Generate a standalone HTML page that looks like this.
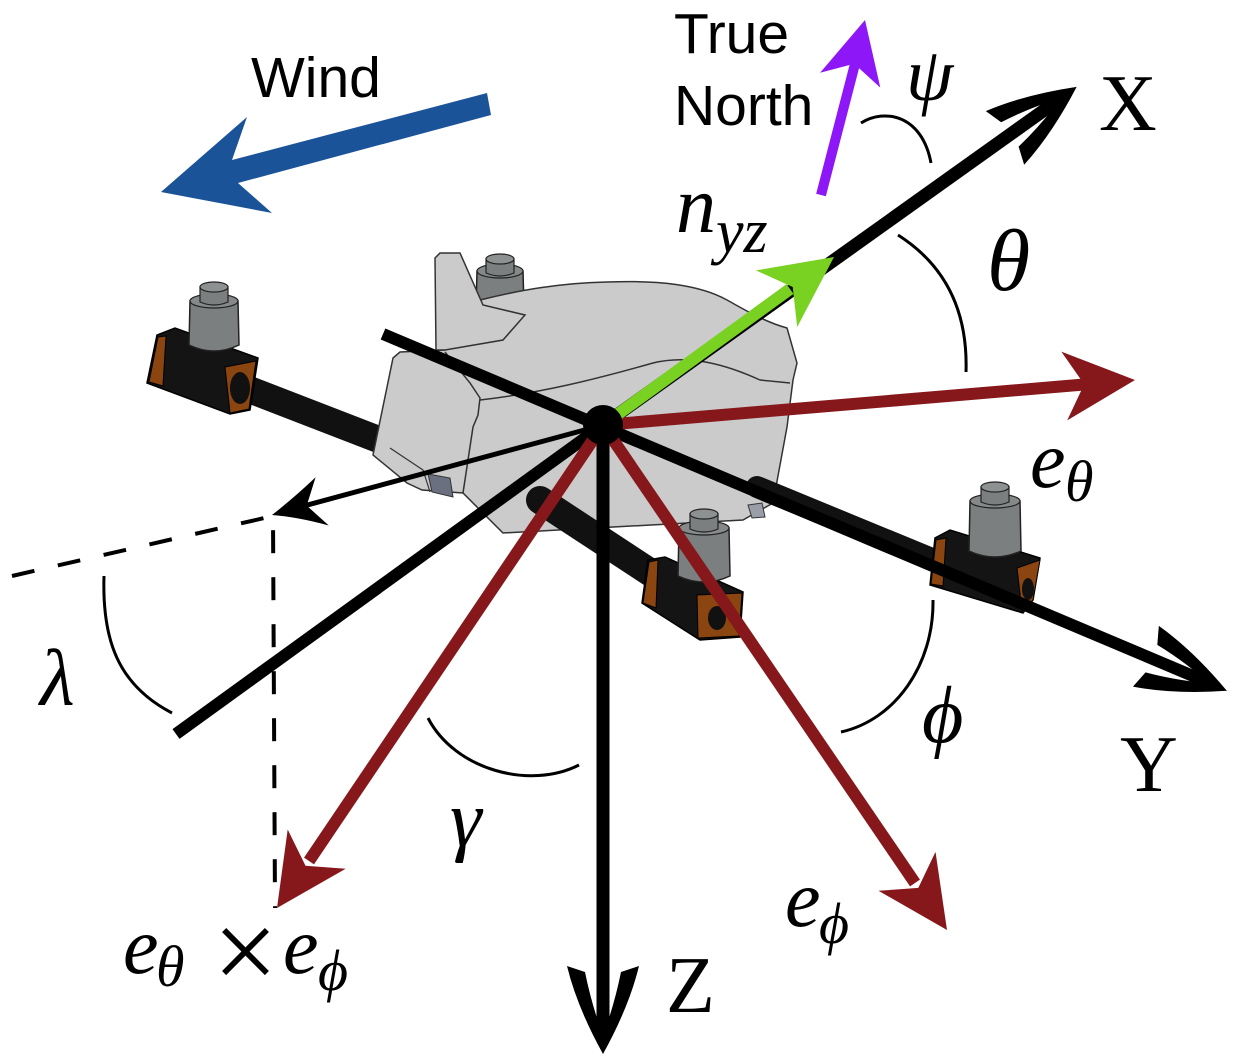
<!DOCTYPE html>
<html><head><meta charset="utf-8"><style>
html,body{margin:0;padding:0;background:#fff;}
svg{display:block;}
.m{font-family:"Liberation Serif","DejaVu Serif",serif;font-style:italic;fill:#000;}
.u{font-family:"Liberation Serif","DejaVu Serif",serif;fill:#000;}
.s{font-family:"Liberation Sans",Arial,sans-serif;fill:#000;}
</style></head><body>
<svg width="1236" height="1061" viewBox="0 0 1236 1061" xmlns="http://www.w3.org/2000/svg">
<rect width="1236" height="1061" fill="#fff"/>

<!-- Wind -->
<text class="s" x="251" y="97" font-size="57">Wind</text>
<polygon points="161,192 247,117 232,160 487,93 491,115 238,183 272,213" fill="#1b5399"/>

<!-- True North -->
<text class="s" x="674" y="53" font-size="57">True</text>
<text class="s" x="674" y="125" font-size="57">North</text>
<line x1="821" y1="195" x2="856" y2="60" stroke="#8e17f7" stroke-width="10"/>
<polygon points="865,20 820.1,72.8 854.2,63.7 880.3,87.6" fill="#8e17f7"/>

<!-- top back motor -->
<g transform="translate(500,265)">
 <path d="M-23,6 L-24,44 Q0,54 24,44 L23,6 Z" fill="#7c7f7f" stroke="#222" stroke-width="1.5"/>
 <ellipse cx="0" cy="6" rx="23" ry="7" fill="#868989" stroke="#222" stroke-width="1.2"/>
 <path d="M-14,-6 L-14,8 Q0,14 14,8 L14,-6 Z" fill="#7c7f7f" stroke="#222" stroke-width="1.2"/>
 <ellipse cx="0" cy="-6" rx="14" ry="5" fill="#8e9191" stroke="#222" stroke-width="1.2"/>
</g>

<!-- left arm -->
<line x1="160" y1="355" x2="385" y2="442" stroke="#111" stroke-width="27"/>

<!-- body -->
<path d="M393,358 L400,352 L445,350 L480,300 C520,290 560,283 607,282 C660,280 700,285 727,300 C745,310 765,322 787,328 L797,363 L793,380 L787,427 L773,503 L743,520 L503,533 L463,493 L422,490 L407,483 L373,455 Z" fill="#cbcbcb" stroke="#333" stroke-width="1.5"/>
<polygon points="436,350 435,258 440,253 460,253 483,305 525,315 503,340 445,350" fill="#cbcbcb" stroke="#333" stroke-width="1.5"/>
<path d="M480,400 C540,393 593,380 653,363 C690,354 727,365 760,380 L790,383" fill="none" stroke="#333" stroke-width="1.5"/>
<path d="M445,352 L470,383 L480,398 L478,415 L473,427 L463,493" fill="none" stroke="#333" stroke-width="1.5"/>
<path d="M390,448 L423,470 L430,492" fill="none" stroke="#333" stroke-width="1.2"/>
<polygon points="428,474 450,478 453,497 432,492" fill="#6b7080" stroke="#333" stroke-width="1"/>
<polygon points="748,505 762,503 765,517 752,518" fill="#9a9ea6" stroke="#333" stroke-width="1"/>

<!-- bottom arm & right arm -->
<line x1="540" y1="500" x2="700" y2="605" stroke="#111" stroke-width="28" stroke-linecap="round"/>
<line x1="757" y1="487" x2="1000" y2="587" stroke="#111" stroke-width="22" stroke-linecap="round"/>

<!-- left mount -->
<polygon points="147,383 157,335 175,328 258,358 250,410 230,414" fill="#141414" stroke="#000" stroke-width="1.5"/>
<polygon points="149,382 158,337 166,336 163,386" fill="#8a4510" stroke="#000" stroke-width="1"/>
<polygon points="225,367 256,361 249,409 230,413" fill="#8a4510" stroke="#000" stroke-width="1"/>
<ellipse cx="240" cy="388" rx="10" ry="16" fill="#111"/>
<g transform="translate(214,293)">
 <path d="M-24,8 L-25,52 Q0,64 25,52 L24,8 Z" fill="#7c7f7f" stroke="#222" stroke-width="1.5"/>
 <ellipse cx="0" cy="8" rx="24" ry="7" fill="#868989" stroke="#222" stroke-width="1.2"/>
 <path d="M-14,-6 L-14,9 Q0,15 14,9 L14,-6 Z" fill="#7c7f7f" stroke="#222" stroke-width="1.2"/>
 <ellipse cx="0" cy="-6" rx="14" ry="5" fill="#8e9191" stroke="#222" stroke-width="1.2"/>
</g>

<!-- right mount -->
<polygon points="930,585 935,538 950,530 1040,558 1033,600 1023,613" fill="#141414" stroke="#000" stroke-width="1.5"/>
<polygon points="931,584 936,540 946,538 943,586" fill="#8a4510" stroke="#000" stroke-width="1"/>
<polygon points="1017,568 1040,560 1033,600 1022,611" fill="#8a4510" stroke="#000" stroke-width="1"/>
<ellipse cx="1028" cy="589" rx="6" ry="11" fill="#111"/>
<g transform="translate(995,493)">
 <path d="M-25,8 L-26,58 Q0,70 26,58 L25,8 Z" fill="#7c7f7f" stroke="#222" stroke-width="1.5"/>
 <ellipse cx="0" cy="8" rx="25" ry="7" fill="#868989" stroke="#222" stroke-width="1.2"/>
 <path d="M-14,-6 L-14,9 Q0,15 14,9 L14,-6 Z" fill="#7c7f7f" stroke="#222" stroke-width="1.2"/>
 <ellipse cx="0" cy="-6" rx="14" ry="5" fill="#8e9191" stroke="#222" stroke-width="1.2"/>
</g>

<!-- bottom mount -->
<polygon points="642,603 648,560 665,557 743,592 740,637 700,640" fill="#141414" stroke="#000" stroke-width="1.5"/>
<polygon points="643,603 649,562 658,560 656,608" fill="#8a4510" stroke="#000" stroke-width="1"/>
<polygon points="697,595 742,593 739,636 698,638" fill="#8a4510" stroke="#000" stroke-width="1"/>
<ellipse cx="717" cy="618" rx="9" ry="12" fill="#111"/>
<g transform="translate(704,520)">
 <path d="M-25,8 L-26,56 Q0,68 26,56 L25,8 Z" fill="#7c7f7f" stroke="#222" stroke-width="1.5"/>
 <ellipse cx="0" cy="8" rx="25" ry="7" fill="#868989" stroke="#222" stroke-width="1.2"/>
 <path d="M-14,-6 L-14,9 Q0,15 14,9 L14,-6 Z" fill="#7c7f7f" stroke="#222" stroke-width="1.2"/>
 <ellipse cx="0" cy="-6" rx="14" ry="5" fill="#8e9191" stroke="#222" stroke-width="1.2"/>
</g>

<!-- dashed lines -->
<path d="M12,576 L273,516 L275,908" fill="none" stroke="#000" stroke-width="4" stroke-dasharray="23 24"/>

<!-- black axes -->
<line x1="383" y1="334" x2="1212" y2="684" stroke="#000" stroke-width="12"/>
<line x1="603" y1="425" x2="176" y2="734" stroke="#000" stroke-width="12"/>
<line x1="603" y1="425" x2="1064" y2="96" stroke="#000" stroke-width="13"/>
<line x1="603" y1="425" x2="603" y2="1040" stroke="#000" stroke-width="13"/>
<line x1="603" y1="425" x2="300" y2="507" stroke="#000" stroke-width="5"/>
<path d="M272,515 Q295,497 315.6,477.3 L306.7,505.6 L328.8,525.5 Q298,517 272,515 Z" fill="#000"/>

<!-- curved arrowheads X, Y, Z -->
<g transform="translate(1075,88) rotate(-35.5)" fill="#000">
 <path d="M2,0 Q-45,-24 -86,-33 L-80,-15 Q-45,-10 -8,3 Z"/>
 <path d="M2,0 Q-45,24 -86,33 L-80,15 Q-45,10 -8,-3 Z"/>
</g>
<g transform="translate(1225,690) rotate(23.1)" fill="#000">
 <path d="M2,0 Q-45,-24 -86,-33 L-80,-15 Q-45,-10 -8,3 Z"/>
 <path d="M2,0 Q-45,24 -86,33 L-80,15 Q-45,10 -8,-3 Z"/>
</g>
<g transform="translate(603,1052) rotate(90)" fill="#000">
 <path d="M2,0 Q-45,-26 -86,-36 L-80,-18 Q-45,-11 -8,3 Z"/>
 <path d="M2,0 Q-45,26 -86,36 L-80,18 Q-45,11 -8,-3 Z"/>
</g>

<!-- red vectors -->
<line x1="603" y1="425" x2="1090" y2="384" stroke="#86181b" stroke-width="12"/>
<polygon points="1135,380 1061.3,351.6 1084.2,384.3 1067.2,420.4" fill="#86181b"/>
<line x1="603" y1="425" x2="915" y2="883" stroke="#86181b" stroke-width="12"/>
<polygon points="947,930 935.5,851.9 918.3,887.9 878.5,890.8" fill="#86181b"/>
<line x1="603" y1="425" x2="309" y2="861" stroke="#86181b" stroke-width="12"/>
<polygon points="277,908 287.7,829.5 305.5,865.7 345.7,868.7" fill="#86181b"/>

<!-- green n_yz -->
<line x1="603" y1="425" x2="790" y2="289" stroke="#79d121" stroke-width="12"/>
<polygon points="834,257 756,270.4 792.7,287 797.2,327" fill="#79d121"/>

<!-- center dot -->
<circle cx="603" cy="425" r="20" fill="#000"/>

<!-- angle arcs -->
<g fill="none" stroke="#000" stroke-width="3">
 <path d="M861,123 C885,108 922,115 931,163"/>
 <path d="M898,235 C945,265 968,310 966,372"/>
 <path d="M104,576 C102,640 118,685 172,713"/>
 <path d="M428,718 C455,770 530,790 579,765"/>
 <path d="M933,600 C934,665 895,720 841,732"/>
</g>

<!-- labels -->
<text class="m" x="906" y="100" font-size="76">ψ</text>
<text class="u" x="1099" y="130" font-size="80">X</text>
<text class="m" x="987" y="290" font-size="88">θ</text>
<text class="m" x="676" y="232" font-size="80">n</text>
<text class="m" x="716" y="252" font-size="62">yz</text>
<text class="m" x="1030" y="487" font-size="80">e</text>
<text class="m" x="1065" y="501" font-size="58">θ</text>
<text class="u" x="1120" y="791" font-size="80">Y</text>
<text class="m" x="922" y="742" font-size="80">ϕ</text>
<text class="m" x="785" y="926" font-size="80">e</text>
<text class="m" x="819" y="943" font-size="58">ϕ</text>
<text class="u" x="666" y="1012" font-size="80">Z</text>
<text class="m" x="450" y="846" font-size="80">γ</text>
<text class="m" x="40" y="705" font-size="80">λ</text>
<text class="m" x="123" y="973" font-size="80">e</text>
<text class="m" x="156" y="986" font-size="58">θ</text>
<text class="u" x="213" y="990" font-size="115">×</text>
<text class="m" x="283" y="973" font-size="80">e</text>
<text class="m" x="318" y="990" font-size="58">ϕ</text>
</svg>
</body></html>
